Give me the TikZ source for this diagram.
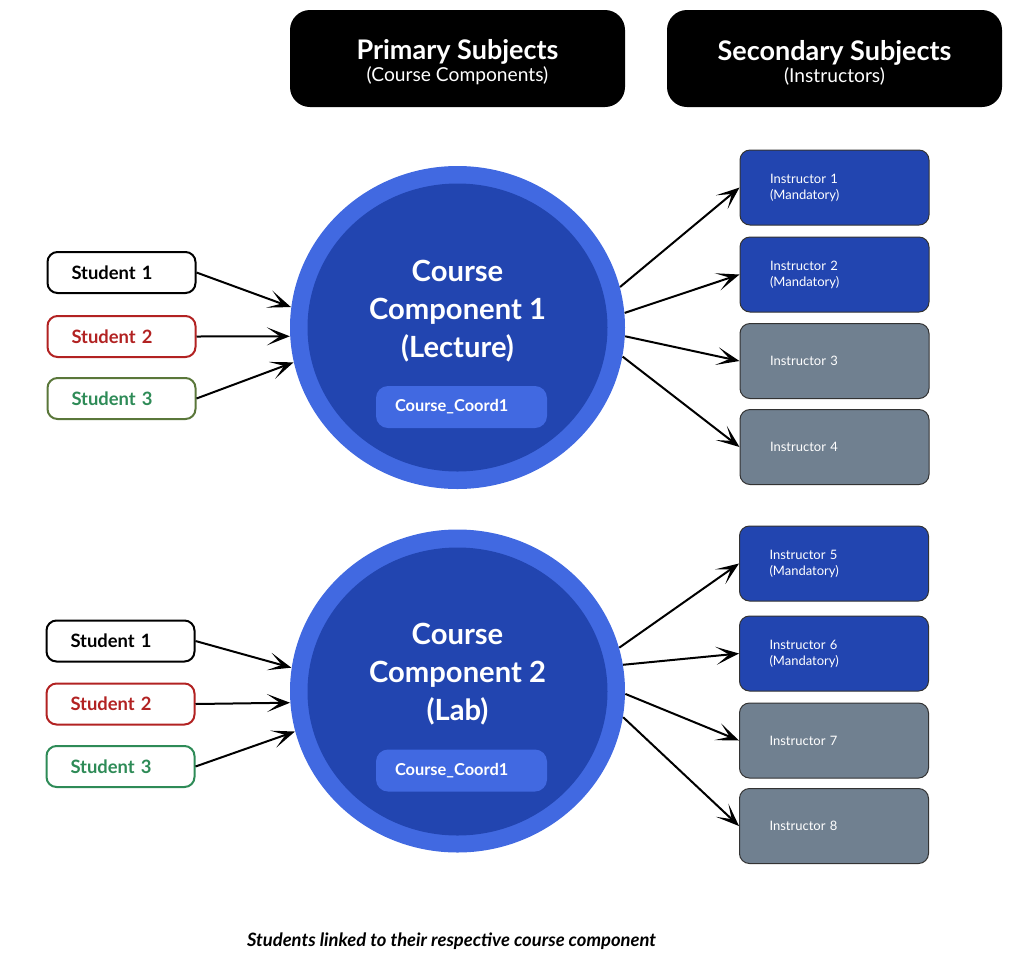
\documentclass[tikz,border=0pt]{standalone}
\usepackage{fontspec}
\setmainfont{Lato}
\usetikzlibrary{shapes.geometric,arrows.meta}
\definecolor{royal}{HTML}{4169E1}
\definecolor{deepblue}{HTML}{2245B0}
\definecolor{slate}{HTML}{708090}
\definecolor{firebrick}{HTML}{B22222}
\definecolor{olivegreen}{HTML}{5A773A}
\definecolor{seagreen}{HTML}{2E8B57}
\definecolor{boxline}{HTML}{333333}
\begin{document}
\begin{tikzpicture}[x=0.5pt,y=-0.5pt,
  header/.style={fill=black, rounded corners=10pt, minimum width=167.5pt, minimum height=48.5pt},
  headtext/.style={text=white, align=center, font=\fontsize{13.5}{13.5}\selectfont},
  ring/.style={ellipse, fill=royal, inner sep=0pt, minimum width=167.5pt, minimum height=161.5pt},
  core/.style={ellipse, fill=deepblue, inner sep=0pt, minimum width=150pt, minimum height=144pt},
  title/.style={text=white, align=center, font=\bfseries\fontsize{14.6}{19}\selectfont},
  coord/.style={fill=royal, rounded corners=6pt, minimum height=21pt, text width=66.5pt,
    inner xsep=9.5pt, align=left, text=white, font=\bfseries\fontsize{8.2}{10}\selectfont},
  student/.style={draw=#1, text=#1, line width=1pt, rounded corners=5pt, fill=white,
    minimum height=20.5pt, text width=50pt, inner xsep=12pt, align=left,
    font=\bfseries\fontsize{9.2}{11}\selectfont},
  instr/.style={draw=boxline, line width=0.5pt, rounded corners=5pt, minimum height=37.5pt,
    text width=64.5pt, inner xsep=15pt, align=left, text=white, font=\fontsize{6.5}{8}\selectfont},
  mandatory/.style={instr, fill=deepblue},
  optional/.style={instr, fill=slate},
  link/.style={-{Stealth[length=11.5pt,width=9pt,inset=6.5pt]}, line width=1pt},
]
\useasboundingbox (0,0) rectangle (1019,971);

% column headers
\node[header] (primary) at (457.5,58.5) {};
\node[headtext] (primarytext) at (457.5,62.5) {{\bfseries Primary Subjects}\\[-2.5pt]{\fontsize{9.6}{11}\selectfont (Course Components)}};
\node[header] (secondary) at (834.5,58.5) {};
\node[headtext] (secondarytext) at (834.5,62.5) {{\bfseries Secondary Subjects}\\[-2.5pt]{\fontsize{9.6}{11}\selectfont (Instructors)}};

% course component 1
\node[ring] (ring1) at (457.5,327.5) {};
\node[core] (core1) at (457.5,327.5) {};
\node[title] (title1) at (457.5,311.5) {Course\\Component 1\\(Lecture)};
\node[coord] (coord1) at (461.5,407) {Course\_Coord1};

\node[student=black] (s11) at (121.5,272.5) {Student 1};
\node[student=firebrick] (s12) at (121.5,336.5) {Student 2};
\node[student=olivegreen, text=seagreen] (s13) at (121.5,398.5) {Student 3};

\node[mandatory] (i1) at (834.5,187.5) {Instructor 1\\(Mandatory)};
\node[mandatory] (i2) at (834.5,274.5) {Instructor 2\\(Mandatory)};
\node[optional] (i3) at (834.5,361) {Instructor 3};
\node[optional] (i4) at (834.5,447) {Instructor 4};

\draw[link] (s11.east) -- (ring1.173);
\draw[link] (s12.east) -- (ring1.183);
\draw[link] (s13.east) -- (ring1.192);
\draw[link] (ring1.14) -- (i1.west);
\draw[link] (ring1.5) -- (i2.west);
\draw[link] (ring1.-3) -- (i3.west);
\draw[link] (ring1.-10.5) -- (i4.west);

% course component 2
\node[ring] (ring2) at (457.5,691) {};
\node[core] (core2) at (457.5,691.5) {};
\node[title] (title2) at (457.5,674) {Course\\Component 2\\(Lab)};
\node[coord] (coord2) at (461.5,770.5) {Course\_Coord1};

\node[student=black] (s21) at (120.5,641) {Student 1};
\node[student=firebrick] (s22) at (120.5,704) {Student 2};
\node[student=seagreen] (s23) at (120.5,766.5) {Student 3};

\node[mandatory] (i5) at (834,563.5) {Instructor 5\\(Mandatory)};
\node[mandatory] (i6) at (834,653.5) {Instructor 6\\(Mandatory)};
\node[optional] (i7) at (834,740.5) {Instructor 7};
\node[optional] (i8) at (834,826) {Instructor 8};

\draw[link] (s21.east) -- (ring2.172);
\draw[link] (s22.east) -- (ring2.184);
\draw[link] (s23.east) -- (ring2.194);
\draw[link] (ring2.15) -- (i5.west);
\draw[link] (ring2.9) -- (i6.west);
\draw[link] (ring2.-1.5) -- (i7.west);
\draw[link] (ring2.-9.5) -- (i8.west);

\node[font=\bfseries\itshape\fontsize{9.2}{11}\selectfont] (caption) at (451.5,941) {Students linked to their respective course component};
\end{tikzpicture}
\end{document}
